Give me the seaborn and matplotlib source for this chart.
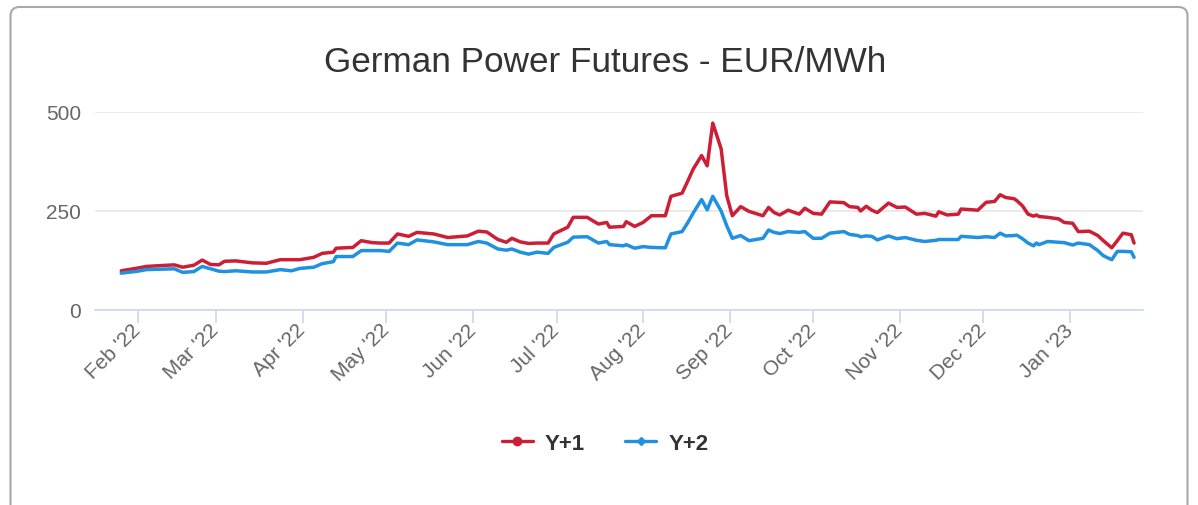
import matplotlib
matplotlib.use("Agg")
import matplotlib.pyplot as plt
from matplotlib.lines import Line2D
from matplotlib.patches import FancyBboxPatch
import pandas as pd
import seaborn as sns

# =====================================
# DATA
# =====================================

dates = [
    "2022-01-26", "2022-02-01", "2022-02-04", "2022-02-09", "2022-02-14", "2022-02-17",
    "2022-02-21", "2022-02-24", "2022-02-27", "2022-03-02", "2022-03-04", "2022-03-08",
    "2022-03-14", "2022-03-19", "2022-03-24", "2022-03-28", "2022-03-31", "2022-04-05",
    "2022-04-08", "2022-04-12", "2022-04-13", "2022-04-19", "2022-04-22", "2022-04-26",
    "2022-04-29", "2022-05-02", "2022-05-05", "2022-05-09", "2022-05-12", "2022-05-18",
    "2022-05-23", "2022-05-30", "2022-06-03", "2022-06-06", "2022-06-10", "2022-06-13",
    "2022-06-15", "2022-06-18", "2022-06-21", "2022-06-24", "2022-06-28", "2022-06-30",
    "2022-07-05", "2022-07-07", "2022-07-12", "2022-07-16", "2022-07-19", "2022-07-20",
    "2022-07-25", "2022-07-26", "2022-07-29", "2022-08-01", "2022-08-04", "2022-08-09",
    "2022-08-11", "2022-08-15", "2022-08-17", "2022-08-19", "2022-08-22", "2022-08-24",
    "2022-08-26", "2022-08-29", "2022-08-31", "2022-09-02", "2022-09-05", "2022-09-08",
    "2022-09-13", "2022-09-15", "2022-09-17", "2022-09-19", "2022-09-22", "2022-09-26",
    "2022-09-28", "2022-10-01", "2022-10-04", "2022-10-07", "2022-10-12", "2022-10-14",
    "2022-10-17", "2022-10-18", "2022-10-20", "2022-10-22", "2022-10-24", "2022-10-28",
    "2022-10-31", "2022-11-03", "2022-11-07", "2022-11-10", "2022-11-14", "2022-11-15",
    "2022-11-18", "2022-11-22", "2022-11-23", "2022-11-29", "2022-12-02", "2022-12-05",
    "2022-12-07", "2022-12-09", "2022-12-12", "2022-12-13", "2022-12-15", "2022-12-17",
    "2022-12-19", "2022-12-20", "2022-12-21", "2022-12-24", "2022-12-28", "2022-12-30",
    "2023-01-02", "2023-01-04", "2023-01-08", "2023-01-11", "2023-01-13", "2023-01-16",
    "2023-01-18", "2023-01-20", "2023-01-23", "2023-01-24",
]

y_plus_1 = [
    99, 106, 110, 112, 114, 108, 113, 126, 115, 114, 123, 124,
    119, 118, 127, 127, 127, 133, 143, 146, 156, 158, 175, 170,
    169, 169, 192, 186, 196, 192, 183, 187, 199, 197, 178, 171,
    181, 172, 168, 169, 169, 192, 209, 234, 234, 217, 221, 209,
    211, 223, 211, 221, 238, 238, 287, 295, 325, 356, 390, 364,
    472, 407, 289, 238, 261, 249, 238, 259, 246, 240, 252, 242,
    257, 244, 242, 273, 271, 261, 259, 250, 262, 252, 246, 270,
    259, 260, 242, 244, 237, 248, 240, 242, 255, 252, 272, 274,
    291, 284, 281, 276, 263, 242, 237, 240, 236, 234, 230, 221,
    219, 198, 199, 188, 175, 157, 175, 194, 190, 169,
]

y_plus_2 = [
    93, 98, 102, 103, 104, 95, 97, 110, 104, 98, 97, 99,
    96, 96, 102, 99, 105, 108, 117, 122, 135, 135, 150, 150,
    150, 148, 169, 165, 177, 172, 165, 165, 173, 169, 154, 151,
    154, 146, 141, 146, 143, 158, 171, 184, 185, 169, 173, 165,
    162, 165, 156, 160, 158, 157, 192, 198, 220, 245, 279, 253,
    287, 250, 213, 181, 188, 175, 181, 202, 196, 193, 198, 196,
    198, 181, 181, 194, 198, 191, 188, 185, 187, 186, 177, 187,
    180, 183, 176, 173, 176, 178, 178, 178, 186, 183, 185, 183,
    194, 187, 188, 189, 180, 169, 162, 169, 165, 173, 171, 170,
    164, 169, 165, 150, 137, 127, 148, 148, 147, 133,
]

series_names = ["Y+1", "Y+2"]
series_colors = ["#cc1f36", "#1f91e0"]
y_ticks = [0, 250, 500]
month_ticks = pd.date_range("2022-02-01", "2023-01-01", freq="MS")
month_labels = ["Feb '22", "Mar '22", "Apr '22", "May '22", "Jun '22", "Jul '22",
                "Aug '22", "Sep '22", "Oct '22", "Nov '22", "Dec '22", "Jan '23"]

df = pd.DataFrame({"date": pd.to_datetime(dates), "Y+1": y_plus_1, "Y+2": y_plus_2})
df = df.melt(id_vars="date", var_name="series", value_name="price")

# =====================================
# PLOT
# =====================================

sns.set_theme(style="white")
plt.rcParams["font.family"] = ["Liberation Sans", "DejaVu Sans"]

fig = plt.figure(figsize=(11.98, 5.06), dpi=100)

# rounded card border
card = FancyBboxPatch((10.5, -30), 1177, 528, boxstyle="round,pad=0,rounding_size=9",
                      transform=None, facecolor="white", edgecolor="#a8a8a8",
                      linewidth=1.5, zorder=-10)
fig.patches.append(card)

ax = fig.add_axes([0.0793, 0.3854, 0.8748, 0.3913])
ax.set_facecolor("none")

sns.lineplot(data=df, x="date", y="price", hue="series", hue_order=series_names,
             palette=series_colors, linewidth=2.5, legend=False, ax=ax)

ax.set_ylim(0, 500)
ax.set_yticks(y_ticks)
ax.set_yticklabels([str(t) for t in y_ticks])
ax.set_xlim(pd.Timestamp("2022-01-16 14:00"), pd.Timestamp("2023-01-27 05:00"))
ax.set_xticks(month_ticks)
ax.set_xticklabels(month_labels, rotation=45, ha="right", va="center",
                   rotation_mode="anchor")
ax.set_xlabel("")
ax.set_ylabel("")

ax.grid(axis="y", color="#e6e6e6", linewidth=1.2)
ax.grid(axis="x", visible=False)
for side in ["left", "top", "right"]:
    ax.spines[side].set_visible(False)
ax.spines["bottom"].set_color("#ccd6eb")
ax.spines["bottom"].set_linewidth(1.2)

ax.tick_params(axis="y", length=0, pad=10, labelsize=15, labelcolor="#666666")
ax.tick_params(axis="x", length=9, width=1.2, color="#ccd6eb", pad=3,
               labelsize=15, labelcolor="#666666", bottom=True)

fig.text(0.505, 1 - 63 / 506, "German Power Futures - EUR/MWh",
         ha="center", va="center", fontsize=25.3, color="#333333")

handles = [
    Line2D([0], [0], color=series_colors[0], lw=2.4, marker="o", markersize=6),
    Line2D([0], [0], color=series_colors[1], lw=2.4, marker="D", markersize=4),
]
fig.legend(handles, series_names, loc="center", bbox_to_anchor=(0.505, 1 - 444 / 506),
           ncol=2, frameon=False, handlelength=1.4, handletextpad=0.55,
           columnspacing=1.8, prop={"weight": "bold", "size": 16},
           labelcolor="#333333")

fig.savefig("out.png", dpi=100, facecolor="white")
